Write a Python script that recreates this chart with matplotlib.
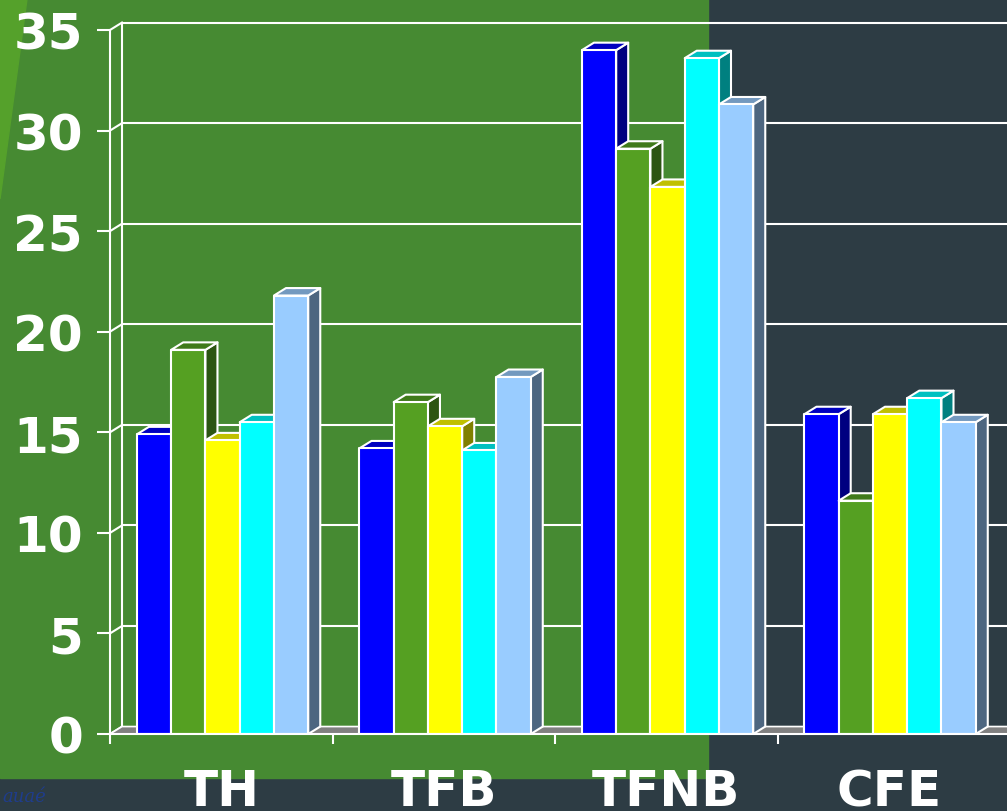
import matplotlib.pyplot as plt
from matplotlib.patches import Polygon

categories = ["TH", "TFB", "TFNB", "CFE"]
series = [
    [14.9, 14.2, 34.0, 15.9],   # blue
    [19.1, 16.5, 29.1, 11.6],   # green
    [14.6, 15.3, 27.2, 15.9],   # yellow
    [15.5, 14.1, 33.6, 16.7],   # cyan
    [21.8, 17.75, 31.3, 15.5],  # light blue
]
yticks = [0, 5, 10, 15, 20, 25, 30, 35]

# front / side / top colours per series
front = ['#0000FF', '#55A022', '#FFFF00', '#00FFFF', '#99CCFF']
side = ['#000080', '#2C5512', '#808000', '#008080', '#4D6680']
top = ['#0000C0', '#3F7A1A', '#C0C000', '#00C0C0', '#7399BF']

GREEN = '#468A32'
DARK = '#2D3C44'
DX, DY = 0.054, 0.37      # 3d depth offset in data units
BW = 0.154                # bar width
START = 0.121             # first bar offset inside a slot

fig = plt.figure(figsize=(10.07, 8.12), dpi=100)
fig.patch.set_facecolor(DARK)

# background panels
fig.patches.append(Polygon([(0, 33/812), (708/1007, 33/812), (708/1007, 1), (0, 1)],
                           closed=True, transform=fig.transFigure, color=GREEN, zorder=-5))
fig.patches.append(Polygon([(0, 1), (27/1007, 1), (0, 1 - 200/812)],
                           closed=True, transform=fig.transFigure, color='#55A12B', zorder=-4))
fig.text(0.002, 0.012, "auaé", color='#1F3D8C', fontsize=13, style='italic', family='DejaVu Serif')

ax = fig.add_axes([110/1007, 77/812, 897/1007, 704/812])
ax.set_facecolor('none')
ax.set_xlim(0, 897/222.5)
ax.set_ylim(0, 35)

# back wall gridlines and connectors
for v in yticks:
    ax.plot([DX, 10], [v + DY, v + DY], color='white', lw=1.5, zorder=1, clip_on=False)
    ax.plot([0, DX], [v, v + DY], color='white', lw=1.5, zorder=1, clip_on=False)
ax.plot([DX, DX], [DY, 35 + DY], color='white', lw=1.5, zorder=1, clip_on=False)

# floor
ax.add_patch(Polygon([(0, 0), (10, 0), (10 + DX, DY), (DX, DY)], closed=True,
                     facecolor='#808080', edgecolor='white', lw=1.2, zorder=2, clip_on=False))

# bars, drawn left to right so each front face covers the previous side
for g in range(len(categories)):
    for s in range(len(series)):
        v = series[s][g]
        x0 = g + START + s * BW
        x1 = x0 + BW
        kw = dict(closed=True, edgecolor='white', lw=1.5, zorder=3, joinstyle='round')
        ax.add_patch(Polygon([(x1, 0), (x1 + DX, DY), (x1 + DX, v + DY), (x1, v)],
                             facecolor=side[s], **kw))
        ax.add_patch(Polygon([(x0, v), (x1, v), (x1 + DX, v + DY), (x0 + DX, v + DY)],
                             facecolor=top[s], **kw))
        ax.add_patch(Polygon([(x0, 0), (x1, 0), (x1, v), (x0, v)],
                             facecolor=front[s], **kw))

for sp in ['top', 'right']:
    ax.spines[sp].set_visible(False)
for sp in ['left', 'bottom']:
    ax.spines[sp].set_color('white')
    ax.spines[sp].set_linewidth(1.5)
    ax.spines[sp].set_zorder(4)

ax.set_yticks(yticks)
ax.set_yticklabels([str(t) for t in yticks], fontsize=36, fontweight='bold',
                   color='white', family='DejaVu Sans')
ax.tick_params(axis='y', length=9.5, width=1.5, color='white', pad=10)

ax.set_xticks([g + 0.5 for g in range(len(categories))])
ax.set_xticklabels(categories, fontsize=36, fontweight='bold', color='white',
                   family='DejaVu Sans')
ax.set_xticks([0, 1, 2, 3], minor=True)
ax.tick_params(axis='x', which='major', length=0, pad=24)
ax.tick_params(axis='x', which='minor', length=7, width=1.5, color='white')

fig.savefig('out.png', dpi=100, facecolor=fig.get_facecolor())
